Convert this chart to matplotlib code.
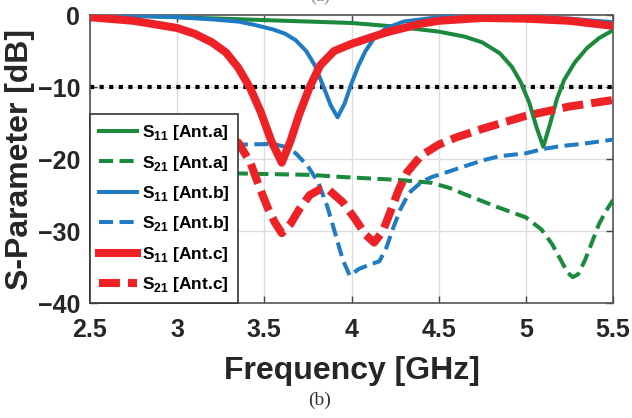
import matplotlib
matplotlib.use('Agg')
import matplotlib.pyplot as plt

plt.rcParams['font.family'] = ['Liberation Sans', 'DejaVu Sans']
plt.rcParams['font.weight'] = 'bold'
plt.rcParams['mathtext.fontset'] = 'custom'
plt.rcParams['mathtext.bf'] = 'Liberation Sans:bold'
plt.rcParams['mathtext.rm'] = 'Liberation Sans:bold'

# S11 Ant.a (green solid)
f_s11a = [2.5, 2.75, 3.0, 3.25, 3.5, 3.75, 4.0, 4.25, 4.5, 4.65, 4.75, 4.85, 4.92, 4.97,
          5.02, 5.06, 5.1, 5.14, 5.18, 5.22, 5.28, 5.35, 5.42, 5.5]
s11a = [0.0, -0.1, -0.3, -0.5, -0.7, -0.9, -1.1, -1.6, -2.3, -3.0, -3.8, -5.3, -7.2, -9.3,
        -12.2, -15.5, -18.3, -15.0, -11.5, -9.0, -6.6, -4.6, -3.2, -2.1]

# S21 Ant.a (green dashed)
f_s21a = [2.5, 3.35, 3.77, 3.95, 4.27, 4.46, 4.56, 4.65, 4.84, 5.0, 5.09, 5.15, 5.2, 5.24,
          5.27, 5.3, 5.34, 5.38, 5.42, 5.46, 5.5]
s21a = [-21.8, -22.0, -22.2, -22.5, -22.9, -23.3, -24.0, -24.9, -26.7, -28.1, -29.8, -31.8,
        -34.0, -35.8, -36.4, -36.0, -34.0, -31.5, -29.0, -27.2, -25.7]

# S11 Ant.b (blue solid)
f_s11b = [2.5, 2.75, 3.0, 3.2, 3.35, 3.45, 3.55, 3.62, 3.68, 3.74, 3.79, 3.84, 3.88, 3.92,
          3.96, 4.0, 4.04, 4.08, 4.13, 4.2, 4.3, 4.5, 4.75, 5.0, 5.25, 5.5]
s11b = [0.0, -0.1, -0.3, -0.6, -0.9, -1.4, -2.0, -2.6, -3.5, -5.0, -7.0, -10.0, -12.5, -14.2,
        -12.3, -9.5, -7.0, -5.0, -3.2, -1.8, -0.9, -0.3, -0.2, -0.3, -0.5, -1.0]

# S21 Ant.b (blue dashed)
f_s21b = [2.5, 3.35, 3.55, 3.62, 3.68, 3.75, 3.81, 3.86, 3.9, 3.95, 3.99, 4.04, 4.1, 4.16,
          4.2, 4.24, 4.28, 4.33, 4.4, 4.46, 4.55, 4.65, 4.75, 4.85, 5.0, 5.1, 5.2, 5.32, 5.5]
s21b = [-18.0, -18.0, -17.9, -18.3, -19.2, -21.0, -23.3, -26.5, -29.8, -34.0, -36.2, -35.3,
        -34.7, -34.2, -32.3, -29.5, -27.0, -24.7, -23.2, -22.5, -21.8, -21.0, -20.2, -19.6,
        -19.2, -18.6, -18.2, -17.9, -17.3]

# S11 Ant.c (red solid)
f_s11c = [2.5, 2.75, 3.0, 3.1, 3.2, 3.28, 3.35, 3.42, 3.48, 3.54, 3.6, 3.65, 3.7, 3.76,
          3.82, 3.9, 4.0, 4.1, 4.2, 4.3, 4.4, 4.5, 4.75, 5.0, 5.25, 5.5]
s11c = [-0.3, -0.8, -1.8, -2.6, -3.8, -5.2, -7.3, -10.2, -13.5, -17.5, -20.5, -17.5, -13.8,
        -10.0, -7.0, -5.0, -4.0, -3.2, -2.4, -1.8, -1.2, -0.8, -0.4, -0.5, -0.8, -1.5]

# S21 Ant.c (red dashed)
f_s21c = [2.5, 3.35, 3.42, 3.47, 3.52, 3.56, 3.6, 3.65, 3.7, 3.76, 3.82, 3.87, 3.95, 4.02,
          4.08, 4.13, 4.18, 4.22, 4.27, 4.32, 4.4, 4.5, 4.6, 4.75, 5.0, 5.25, 5.5]
s21c = [-15.5, -17.7, -20.5, -23.8, -26.8, -28.8, -30.3, -29.0, -27.0, -25.0, -24.2, -24.3,
        -26.0, -28.3, -30.5, -31.6, -30.0, -27.5, -24.3, -21.8, -19.5, -18.0, -17.0, -15.8,
        -14.0, -12.7, -11.8]

green = '#1b8a3c'
blue = '#1f7cc4'
red = '#ee2226'

fig = plt.figure(figsize=(6.32, 4.18), dpi=100)
ax = fig.add_axes([0.1424, 0.275, 0.8276, 0.689])

ax.plot([2.5, 5.5], [-10, -10], color='black', lw=3.0, dashes=(1, 1.3),
        dash_capstyle='butt', zorder=1)

ax.plot(f_s11a, s11a, color=green, lw=2.9, label=r'S$_{\mathbf{11}}$ [Ant.a]', zorder=3)
ax.plot(f_s21a, s21a, color=green, lw=2.9, dashes=(3.5, 1.6),
        label=r'S$_{\mathbf{21}}$ [Ant.a]', zorder=3)
ax.plot(f_s11b, s11b, color=blue, lw=2.9, label=r'S$_{\mathbf{11}}$ [Ant.b]', zorder=3)
ax.plot(f_s21b, s21b, color=blue, lw=2.9, dashes=(3.5, 1.6),
        label=r'S$_{\mathbf{21}}$ [Ant.b]', zorder=3)
ax.plot(f_s11c, s11c, color=red, lw=5.8, label=r'S$_{\mathbf{11}}$ [Ant.c]', zorder=4)
ax.plot(f_s21c, s21c, color=red, lw=5.8, dashes=(2.6, 1.0),
        label=r'S$_{\mathbf{21}}$ [Ant.c]', zorder=4)

ax.set_xlim(2.5, 5.5)
ax.set_ylim(-40, 0)
ax.set_xticks([2.5, 3, 3.5, 4, 4.5, 5, 5.5])
ax.set_xticklabels(['2.5', '3', '3.5', '4', '4.5', '5', '5.5'])
ax.set_yticks([-40, -30, -20, -10, 0])
ax.grid(True, color='#dddddd', lw=1.0)
ax.set_axisbelow(True)
ax.tick_params(direction='in', top=True, right=True, length=5, width=1,
               color='#444444', labelsize=18, labelcolor='#262626')
ax.tick_params(axis='x', pad=11)
ax.tick_params(axis='y', pad=7)
for lbl in ax.get_xticklabels() + ax.get_yticklabels():
    lbl.set_fontweight('bold')
for sp in ax.spines.values():
    sp.set_color('#555555')
    sp.set_linewidth(1.2)

ax.set_xlabel('Frequency [GHz]', fontsize=23, fontweight='bold', color='#262626', labelpad=10)
ax.set_ylabel('S-Parameter [dB]', fontsize=23, fontweight='bold', color='#262626', labelpad=2)

leg = ax.legend(loc='lower left', bbox_to_anchor=(0, 0), borderaxespad=0,
                fancybox=False, framealpha=1, edgecolor='#333333',
                prop={'size': 12.5, 'weight': 'bold'}, handlelength=2.2,
                labelspacing=0.66, handletextpad=0.3, borderpad=0.5)
leg.get_frame().set_linewidth(1.2)
leg.set_zorder(10)

fig.text(0.506, 0.043, '(b)', ha='center', va='center', fontsize=14,
         family='Liberation Serif', fontweight='normal', color='#333333')
fig.text(0.506, 1.008, '(a)', ha='center', va='center', fontsize=13,
         family='Liberation Serif', fontweight='normal', color='#888888')

fig.savefig('out.png', dpi=100)
